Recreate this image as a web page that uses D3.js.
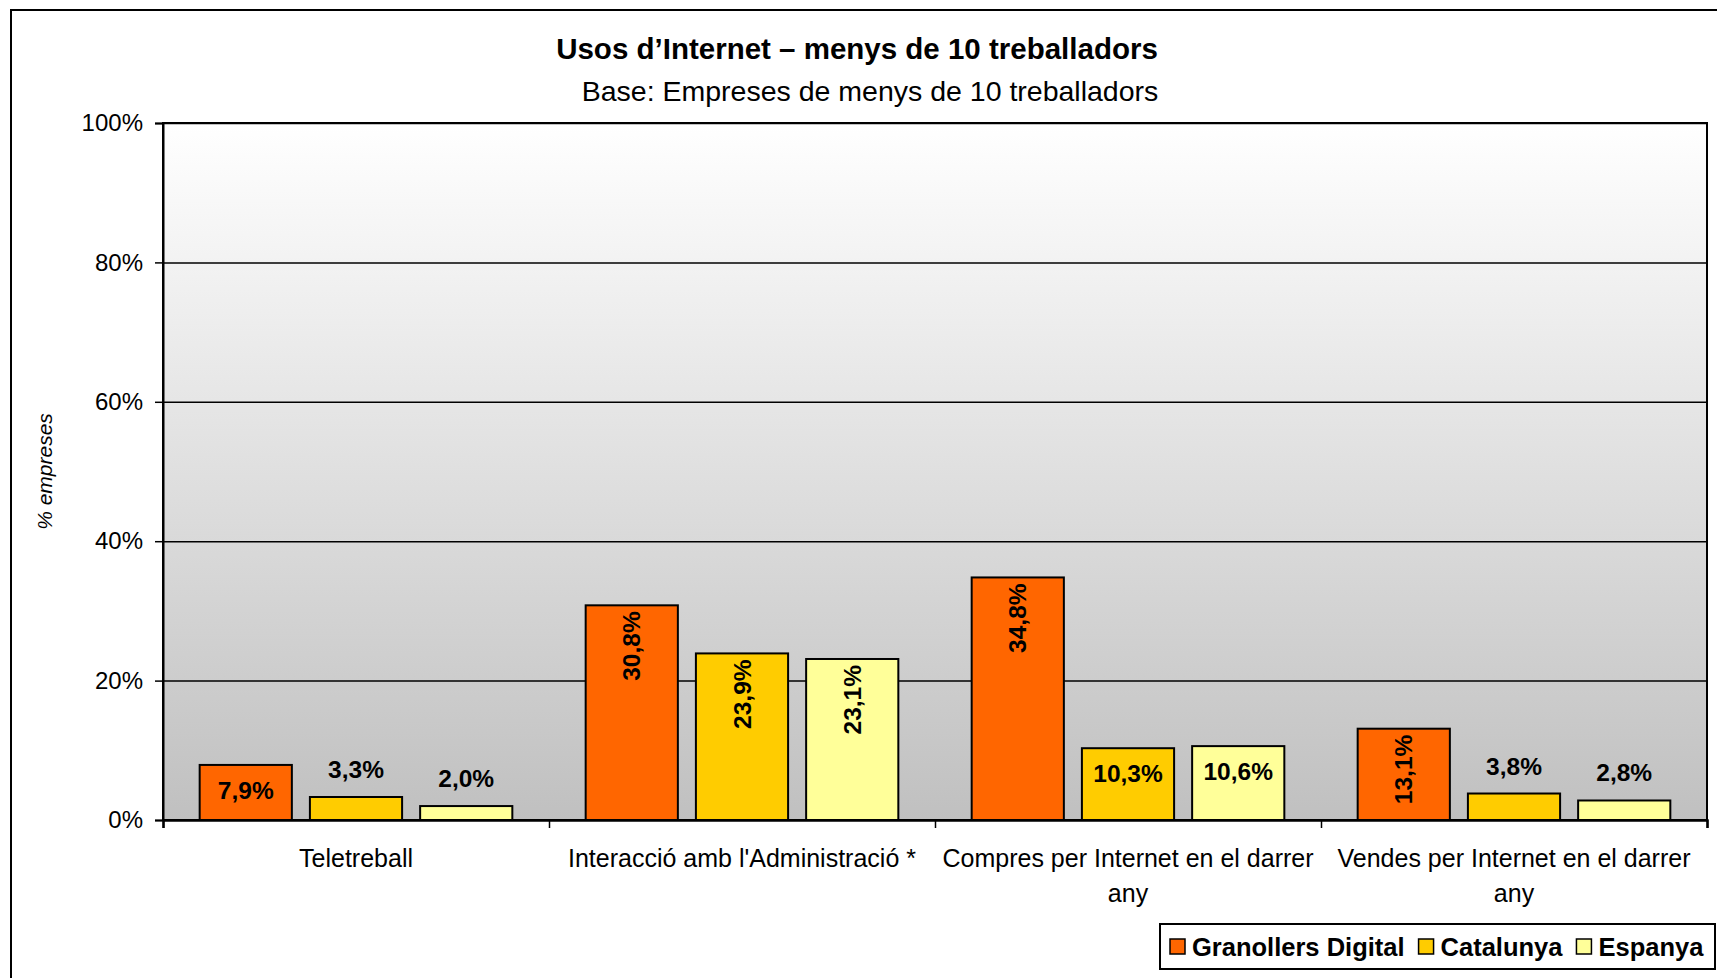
<!DOCTYPE html>
<html>
<head>
<meta charset="utf-8">
<script src="https://cdn.jsdelivr.net/npm/d3@7"></script>
<style>
  body { margin: 0; background: #fff; }
  svg text { font-family: "Liberation Sans", Arial, sans-serif; }
</style>
</head>
<body>
<svg width="1717" height="978"></svg>
<script>
var categories = ["Teletreball", "Interacció amb l'Administració *", "Compres per Internet en el darrer any", "Vendes per Internet en el darrer any"];
var series = ["Granollers Digital", "Catalunya", "Espanya"];
var granollers = [7.9, 30.8, 34.8, 13.1];
var catalunya = [3.3, 23.9, 10.3, 3.8];
var espanya = [2.0, 23.1, 10.6, 2.8];
var yTicks = [0, 20, 40, 60, 80, 100];
var colors = ["#ff6600", "#ffcc00", "#ffff99"];

var svg = d3.select("svg"),
    width = +svg.attr("width"),
    height = +svg.attr("height");

var margin = {top: 123, right: 10, bottom: 158, left: 163};
var plotW = width - margin.left - margin.right,
    plotH = height - margin.top - margin.bottom;

var values = [granollers, catalunya, espanya];
var rows = categories.map(function (c, i) {
    return {cat: c, vals: series.map(function (s, j) { return {s: s, j: j, v: values[j][i]}; })};
});

// outer frame
svg.append("rect")
    .attr("x", 11).attr("y", 10)
    .attr("width", width).attr("height", height)
    .attr("fill", "#fff").attr("stroke", "#000").attr("stroke-width", 2);

var defs = svg.append("defs");
var grad = defs.append("linearGradient")
    .attr("id", "bg").attr("x1", 0).attr("y1", 0).attr("x2", 0).attr("y2", 1);
grad.append("stop").attr("offset", "0%").attr("stop-color", "#ffffff");
grad.append("stop").attr("offset", "100%").attr("stop-color", "#c0c0c0");

var g = svg.append("g").attr("transform", "translate(" + margin.left + "," + margin.top + ")");

var x0 = d3.scaleBand().domain(categories).range([0, plotW]).paddingInner(0.19).paddingOuter(0.095);
var x1 = d3.scaleBand().domain(series).range([0, x0.bandwidth()]).paddingInner(18 / 110);
var y = d3.scaleLinear().domain([0, 100]).range([plotH, 0]);
var color = d3.scaleOrdinal().domain(series).range(colors);

g.append("rect")
    .attr("width", plotW).attr("height", plotH)
    .attr("fill", "url(#bg)");

// gridlines
g.append("g")
    .call(d3.axisLeft(y).tickValues(yTicks.slice(1)).tickSize(-plotW).tickFormat(""))
    .call(function (s) {
        s.select(".domain").remove();
        s.selectAll("line").attr("stroke", "#000").attr("stroke-width", 1.5);
    });

g.append("rect")
    .attr("width", plotW).attr("height", plotH)
    .attr("fill", "none").attr("stroke", "#000").attr("stroke-width", 2);

// y axis
g.append("g")
    .call(d3.axisLeft(y).tickValues(yTicks).tickSize(8).tickPadding(12).tickFormat(function (d) { return d + "%"; }))
    .call(function (s) {
        s.select(".domain").attr("stroke", "#000").attr("stroke-width", 2);
        s.selectAll("line").attr("stroke", "#000").attr("stroke-width", 1.5);
        s.selectAll("text").attr("font-size", 24).attr("fill", "#000")
            .style("font-family", "'Liberation Sans', Arial, sans-serif");
    });

// x axis: boundary ticks
var bounds = categories.map(function (c) { return x0(c) - x0.step() * x0.paddingInner() / 2; });
bounds.push(plotW);
var xb = d3.scaleLinear().domain([0, plotW]).range([0, plotW]);
g.append("g")
    .attr("transform", "translate(0," + plotH + ")")
    .call(d3.axisBottom(xb).tickValues(bounds).tickSize(8).tickFormat(""))
    .call(function (s) {
        s.select(".domain").attr("stroke", "#000").attr("stroke-width", 2.5);
        s.selectAll("line").attr("stroke", "#000").attr("stroke-width", 1.5);
    });

// category labels
g.append("g")
    .attr("transform", "translate(0," + plotH + ")")
    .call(d3.axisBottom(x0).tickSize(0).tickPadding(29))
    .call(function (s) {
        s.select(".domain").remove();
        s.selectAll("text").attr("font-size", 25).attr("fill", "#000")
            .style("font-family", "'Liberation Sans', Arial, sans-serif")
            .call(wrap, x0.step() - 2);
    });

function wrap(text, w) {
    text.each(function () {
        var t = d3.select(this),
            words = t.text().split(/\s+/),
            line = [],
            lineNo = 0,
            yy = t.attr("y"),
            dy = parseFloat(t.attr("dy")),
            tspan = t.text(null).append("tspan").attr("x", 0).attr("y", yy).attr("dy", dy + "em");
        words.forEach(function (word) {
            line.push(word);
            tspan.text(line.join(" "));
            if (tspan.node().getComputedTextLength() > w && line.length > 1) {
                line.pop();
                tspan.text(line.join(" "));
                line = [word];
                tspan = t.append("tspan").attr("x", 0).attr("y", yy)
                    .attr("dy", (++lineNo * 1.42 + dy) + "em").text(word);
            }
        });
    });
}

// bars
var groups = g.selectAll(".grp")
    .data(rows)
    .enter().append("g")
    .attr("class", "grp")
    .attr("transform", function (d) { return "translate(" + x0(d.cat) + ",0)"; });

groups.selectAll("rect")
    .data(function (d) { return d.vals; })
    .enter().append("rect")
    .attr("x", function (d) { return x1(d.s); })
    .attr("y", function (d) { return y(d.v); })
    .attr("width", x1.bandwidth())
    .attr("height", function (d) { return plotH - y(d.v); })
    .attr("fill", function (d) { return color(d.s); })
    .attr("stroke", "#000")
    .attr("stroke-width", 2);

function fmt(v) { return v.toFixed(1).replace(".", ",") + "%"; }

groups.selectAll(".lbl")
    .data(function (d) { return d.vals; })
    .enter().append("text")
    .attr("class", "lbl")
    .attr("font-size", 24.5)
    .attr("font-weight", "bold")
    .attr("fill", "#000")
    .each(function (d) {
        var t = d3.select(this),
            cx = x1(d.s) + x1.bandwidth() / 2,
            top = y(d.v);
        if (d.v >= 13) {
            t.attr("text-anchor", "end")
                .attr("dy", "0.35em")
                .attr("transform", "translate(" + cx + "," + (top + 6) + ") rotate(-90)");
        } else if (d.v >= 7) {
            t.attr("text-anchor", "middle").attr("x", cx).attr("y", top + 34);
        } else {
            t.attr("text-anchor", "middle").attr("x", cx).attr("y", top - 19);
        }
        t.text(fmt(d.v));
    });

// y title
svg.append("text")
    .attr("transform", "translate(52," + (margin.top + plotH / 2) + ") rotate(-90)")
    .attr("text-anchor", "middle")
    .attr("font-size", 21)
    .attr("font-style", "italic")
    .text("% empreses");

// titles
svg.append("text")
    .attr("x", 857).attr("y", 59)
    .attr("text-anchor", "middle")
    .attr("font-size", 29.5)
    .attr("font-weight", "bold")
    .text("Usos d\u2019Internet \u2013 menys de 10 treballadors");

svg.append("text")
    .attr("x", 870).attr("y", 101)
    .attr("text-anchor", "middle")
    .attr("font-size", 28.5)
    .text("Base: Empreses de menys de 10 treballadors");

// legend
var legend = svg.append("g").attr("transform", "translate(1160,924)");
legend.append("rect")
    .attr("width", 555).attr("height", 45)
    .attr("fill", "#fff").attr("stroke", "#000").attr("stroke-width", 2);
var lx = 10;
series.forEach(function (s) {
    legend.append("rect")
        .attr("x", lx).attr("y", 15)
        .attr("width", 15).attr("height", 15)
        .attr("fill", color(s)).attr("stroke", "#000").attr("stroke-width", 1.5);
    var t = legend.append("text")
        .attr("x", lx + 22).attr("y", 32)
        .attr("font-size", 25.5)
        .attr("font-weight", "bold")
        .text(s);
    lx += 22 + t.node().getComputedTextLength() + 14;
});
</script>
</body>
</html>
